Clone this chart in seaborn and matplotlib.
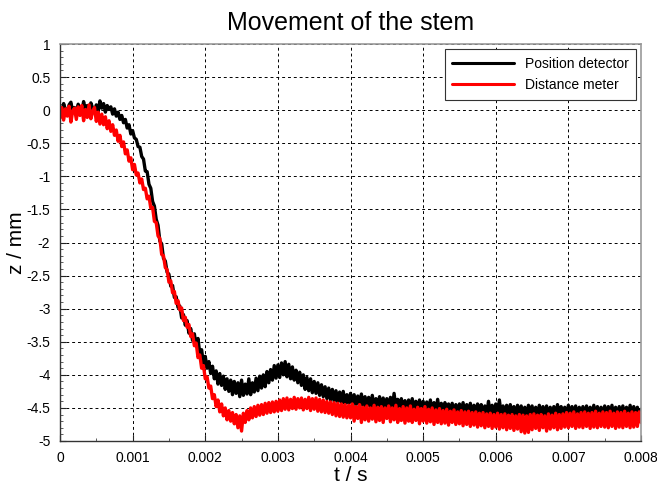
import numpy as np
import pandas as pd
import matplotlib
matplotlib.use("Agg")
import matplotlib.pyplot as plt
from matplotlib.ticker import FixedLocator, MultipleLocator
import seaborn as sns

# ---- data ----
t_start = 0.0
t_end = 0.008
n_samples = 321

position_detector = [
    0.05, -0.04, 0.10, 0.01, -0.06, 0.08, 0.12, -0.02, 0.04, -0.08, 0.09, 0.02, -0.03, 0.13, 0.00, 0.07, -0.05, 0.11, 0.03, -0.01,
    0.08, -0.02, 0.14, 0.03, 0.10, -0.03, 0.07, 0.01, 0.05, -0.06, 0.02, -0.09, -0.03, -0.14, -0.08, -0.19, -0.14, -0.27, -0.22, -0.36,
    -0.31, -0.42, -0.44, -0.55, -0.56, -0.70, -0.74, -0.92, -0.93, -1.12, -1.18, -1.38, -1.45, -1.65, -1.74, -1.98, -2.02, -2.24, -2.28, -2.45,
    -2.48, -2.66, -2.65, -2.83, -2.82, -2.98, -2.96, -3.14, -3.09, -3.25, -3.18, -3.37, -3.30, -3.48, -3.38, -3.56, -3.45, -3.68, -3.62, -3.84,
    -3.72, -3.90, -3.80, -3.98, -3.87, -4.06, -3.94, -4.14, -3.98, -4.16, -4.02, -4.22, -4.06, -4.25, -4.08, -4.30, -4.10, -4.28, -4.12, -4.33,
    -4.08, -4.31, -4.14, -4.29, -4.06, -4.30, -4.12, -4.26, -4.05, -4.24, -4.02, -4.20, -4.00, -4.18, -3.95, -4.12, -3.92, -4.08, -3.86, -4.05,
    -3.85, -4.04, -3.82, -4.00, -3.80, -4.03, -3.84, -4.06, -3.88, -4.08, -3.93, -4.12, -3.96, -4.16, -4.00, -4.22, -4.04, -4.24, -4.06, -4.27,
    -4.10, -4.28, -4.12, -4.31, -4.15, -4.33, -4.18, -4.36, -4.20, -4.38, -4.22, -4.40, -4.24, -4.41, -4.26, -4.42, -4.25, -4.44, -4.30, -4.43,
    -4.28, -4.44, -4.30, -4.46, -4.32, -4.45, -4.29, -4.48, -4.33, -4.47, -4.34, -4.50, -4.31, -4.49, -4.36, -4.48, -4.33, -4.51, -4.35, -4.50,
    -4.36, -4.50, -4.34, -4.52, -4.28, -4.50, -4.37, -4.53, -4.36, -4.52, -4.39, -4.54, -4.38, -4.55, -4.36, -4.53, -4.40, -4.56, -4.38, -4.55,
    -4.40, -4.57, -4.41, -4.55, -4.38, -4.58, -4.42, -4.56, -4.37, -4.57, -4.43, -4.59, -4.42, -4.56, -4.44, -4.58, -4.43, -4.60, -4.45, -4.57,
    -4.44, -4.58, -4.42, -4.60, -4.45, -4.59, -4.43, -4.61, -4.46, -4.58, -4.44, -4.62, -4.45, -4.59, -4.47, -4.61, -4.40, -4.60, -4.46, -4.62,
    -4.44, -4.61, -4.38, -4.60, -4.47, -4.62, -4.46, -4.63, -4.45, -4.60, -4.48, -4.62, -4.46, -4.63, -4.47, -4.61, -4.49, -4.64, -4.46, -4.62,
    -4.47, -4.63, -4.49, -4.62, -4.46, -4.64, -4.48, -4.62, -4.47, -4.65, -4.49, -4.63, -4.48, -4.64, -4.45, -4.62, -4.48, -4.65, -4.49, -4.63,
    -4.46, -4.64, -4.48, -4.62, -4.47, -4.65, -4.49, -4.63, -4.48, -4.66, -4.47, -4.63, -4.49, -4.64, -4.46, -4.65, -4.48, -4.63, -4.49, -4.64,
    -4.47, -4.65, -4.48, -4.63, -4.46, -4.64, -4.49, -4.66, -4.48, -4.63, -4.47, -4.65, -4.49, -4.64, -4.46, -4.63, -4.48, -4.65, -4.49, -4.64,
    -4.52,
]

distance_meter = [
    -0.12, 0.04, -0.15, 0.02, -0.09, 0.06, -0.18, -0.01, 0.03, -0.14, 0.05, -0.08, 0.07, -0.16, 0.01, -0.11, 0.08, -0.13, -0.02, 0.04,
    -0.17, -0.03, -0.21, -0.06, -0.22, -0.10, -0.28, -0.16, -0.32, -0.22, -0.38, -0.30, -0.47, -0.38, -0.55, -0.48, -0.66, -0.60, -0.77, -0.72,
    -0.90, -0.82, -0.98, -0.95, -1.10, -1.04, -1.20, -1.18, -1.34, -1.30, -1.48, -1.47, -1.68, -1.70, -1.90, -1.94, -2.18, -2.20, -2.38, -2.41,
    -2.60, -2.58, -2.76, -2.74, -2.92, -2.88, -3.02, -2.99, -3.18, -3.13, -3.28, -3.24, -3.42, -3.38, -3.56, -3.52, -3.74, -3.70, -3.90, -3.86,
    -4.06, -4.03, -4.20, -4.17, -4.36, -4.30, -4.48, -4.38, -4.56, -4.44, -4.62, -4.50, -4.68, -4.54, -4.70, -4.57, -4.74, -4.60, -4.80, -4.62,
    -4.85, -4.58, -4.72, -4.54, -4.68, -4.50, -4.65, -4.48, -4.63, -4.46, -4.61, -4.45, -4.60, -4.43, -4.58, -4.42, -4.57, -4.41, -4.56, -4.40,
    -4.55, -4.38, -4.54, -4.36, -4.52, -4.35, -4.53, -4.37, -4.51, -4.34, -4.52, -4.36, -4.50, -4.35, -4.53, -4.37, -4.51, -4.34, -4.54, -4.36,
    -4.52, -4.35, -4.55, -4.37, -4.56, -4.38, -4.57, -4.40, -4.58, -4.41, -4.60, -4.42, -4.62, -4.43, -4.63, -4.44, -4.64, -4.45, -4.65, -4.46,
    -4.65, -4.44, -4.70, -4.48, -4.66, -4.45, -4.72, -4.49, -4.68, -4.47, -4.70, -4.50, -4.67, -4.46, -4.71, -4.49, -4.69, -4.48, -4.72, -4.50,
    -4.66, -4.47, -4.71, -4.50, -4.68, -4.46, -4.72, -4.51, -4.69, -4.48, -4.73, -4.50, -4.70, -4.47, -4.72, -4.52, -4.69, -4.49, -4.74, -4.51,
    -4.70, -4.48, -4.73, -4.52, -4.71, -4.50, -4.75, -4.53, -4.72, -4.51, -4.74, -4.54, -4.73, -4.52, -4.76, -4.55, -4.72, -4.53, -4.75, -4.56,
    -4.74, -4.54, -4.77, -4.56, -4.75, -4.55, -4.78, -4.57, -4.76, -4.56, -4.79, -4.58, -4.77, -4.57, -4.80, -4.59, -4.78, -4.58, -4.81, -4.60,
    -4.79, -4.58, -4.82, -4.60, -4.80, -4.59, -4.83, -4.61, -4.81, -4.60, -4.84, -4.62, -4.82, -4.60, -4.86, -4.61, -4.88, -4.62, -4.87, -4.60,
    -4.83, -4.59, -4.81, -4.61, -4.84, -4.60, -4.80, -4.62, -4.85, -4.59, -4.82, -4.61, -4.80, -4.58, -4.83, -4.60, -4.81, -4.59, -4.79, -4.57,
    -4.80, -4.58, -4.78, -4.56, -4.81, -4.59, -4.79, -4.57, -4.80, -4.56, -4.78, -4.58, -4.81, -4.57, -4.79, -4.55, -4.80, -4.58, -4.78, -4.56,
    -4.79, -4.57, -4.80, -4.55, -4.78, -4.58, -4.81, -4.56, -4.79, -4.57, -4.80, -4.55, -4.78, -4.58, -4.80, -4.56, -4.79, -4.57, -4.78, -4.56,
    -4.72,
]

series_names = ["Position detector", "Distance meter"]
x_ticks = [0, 0.001, 0.002, 0.003, 0.004, 0.005, 0.006, 0.007, 0.008]
x_tick_labels = ["0", "0.001", "0.002", "0.003", "0.004", "0.005", "0.006", "0.007", "0.008"]
y_ticks = [1, 0.5, 0, -0.5, -1, -1.5, -2, -2.5, -3, -3.5, -4, -4.5, -5]
y_tick_labels = ["1", "0.5", "0", "-0.5", "-1", "-1.5", "-2", "-2.5", "-3", "-3.5", "-4", "-4.5", "-5"]

# ---- build frame ----
t = np.linspace(t_start, t_end, n_samples)
df = pd.concat([
    pd.DataFrame({"t": t, "z": position_detector, "series": series_names[0]}),
    pd.DataFrame({"t": t, "z": distance_meter, "series": series_names[1]}),
], ignore_index=True)

sns.set_theme(style="white")
plt.rcParams["font.family"] = ["Liberation Sans", "DejaVu Sans"]
plt.rcParams["text.color"] = "black"
plt.rcParams["axes.labelcolor"] = "black"

fig = plt.figure(figsize=(6.57, 4.88), dpi=100)
ax = fig.add_axes([60 / 657, 1 - 441 / 488, 581 / 657, 397 / 488])

sns.lineplot(data=df, x="t", y="z", hue="series", hue_order=series_names,
             palette={series_names[0]: "#000000", series_names[1]: "#ff0000"},
             estimator=None, sort=False, linewidth=2.4, ax=ax)

ax.set_xlim(0, 0.008)
ax.set_ylim(-5, 1)
ax.xaxis.set_major_locator(FixedLocator(x_ticks))
ax.set_xticklabels(x_tick_labels)
ax.yaxis.set_major_locator(FixedLocator(y_ticks))
ax.set_yticklabels(y_tick_labels)
ax.xaxis.set_minor_locator(MultipleLocator(0.0005))
ax.yaxis.set_minor_locator(MultipleLocator(0.1))
ax.tick_params(axis="both", which="major", direction="in", length=4, width=0.8,
               labelsize=10, colors="#222222", labelcolor="black", pad=7,
               bottom=True, left=True)
ax.tick_params(axis="both", which="minor", direction="in", length=2, width=0.6,
               colors="#444444", bottom=True, left=True)

ax.grid(True, which="major", color="black", linestyle=(0, (3, 3)), linewidth=0.7)
ax.set_axisbelow(True)

for side in ["left", "bottom"]:
    ax.spines[side].set_color("#333333")
    ax.spines[side].set_linewidth(1.0)
for side in ["top", "right"]:
    ax.spines[side].set_color("#999999")
    ax.spines[side].set_linewidth(1.2)

ax.set_title("Movement of the stem", fontsize=18, pad=10, color="black")
ax.set_xlabel("t / s", fontsize=15, labelpad=1, color="black")
ax.set_ylabel("z / mm", fontsize=15, labelpad=0, color="black")

leg = ax.legend(loc="upper right", fontsize=10, frameon=True, fancybox=False,
                borderaxespad=0.35, handlelength=4.4, handletextpad=0.8,
                borderpad=0.55, labelspacing=0.55)
leg.set_title(None)
leg.get_frame().set_edgecolor("#333333")
leg.get_frame().set_linewidth(0.8)
leg.get_frame().set_alpha(1)
for line in leg.get_lines():
    line.set_linewidth(2.2)

fig.savefig("out.png", dpi=100)
